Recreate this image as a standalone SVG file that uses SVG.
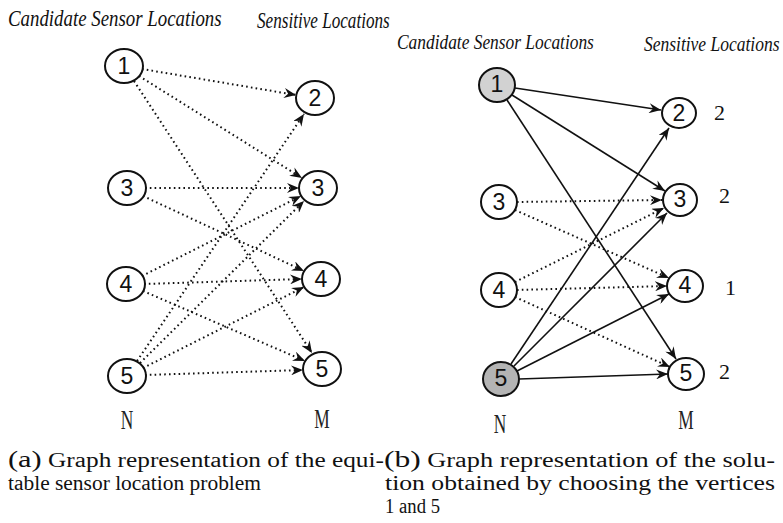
<svg xmlns="http://www.w3.org/2000/svg" width="783" height="523" viewBox="0 0 783 523">
<style>
.n{fill:#fff;stroke:#111;stroke-width:2}
.g1{fill:#d2d2d2}
.g5{fill:#b4b4b4}
.e{fill:none;stroke:#111;stroke-width:1.6;marker-end:url(#ah)}
.dot{stroke-dasharray:1.6 3.2;stroke-width:2}
</style>
<defs>
<marker id="ah" markerWidth="14" markerHeight="10" refX="12" refY="5" orient="auto" markerUnits="userSpaceOnUse">
<path d="M0,0 L12,5 L0,10 L4,5 z" fill="#111"/>
</marker>
</defs>
<g id="headers" font-family="'Liberation Serif', serif" font-style="italic" fill="#111">
<text font-size="23" transform="translate(8 26) scale(0.82 1)">Candidate Sensor  Locations</text>
<text font-size="23" transform="translate(257 28) scale(0.745 1)">Sensitive Locations</text>
<text font-size="22" transform="translate(397 49) scale(0.79 1)">Candidate Sensor  Locations</text>
<text font-size="22" transform="translate(644 51) scale(0.795 1)">Sensitive Locations</text>
</g>
<g id="connectors">
<line class="e dot" x1="142" y1="69" x2="296" y2="95"/>
<line class="e dot" x1="139" y1="76" x2="302" y2="178"/>
<line class="e dot" x1="134" y1="81" x2="312" y2="353"/>
<line class="e dot" x1="145" y1="188" x2="299" y2="188"/>
<line class="e dot" x1="143" y1="196" x2="304" y2="271"/>
<line class="e dot" x1="142" y1="276" x2="301" y2="196"/>
<line class="e dot" x1="144" y1="284" x2="302" y2="279"/>
<line class="e dot" x1="143" y1="291" x2="305" y2="361"/>
<line class="e dot" x1="137" y1="361" x2="304" y2="114"/>
<line class="e dot" x1="140" y1="363" x2="304" y2="201"/>
<line class="e dot" x1="143" y1="368" x2="304" y2="287"/>
<line class="e dot" x1="145" y1="375" x2="303" y2="370"/>
<line class="e" x1="515" y1="88" x2="661" y2="110"/>
<line class="e" x1="512" y1="95" x2="665" y2="191"/>
<line class="e" x1="507" y1="100" x2="676" y2="359"/>
<line class="e dot" x1="517" y1="202" x2="662" y2="200"/>
<line class="e dot" x1="515" y1="210" x2="669" y2="278"/>
<line class="e dot" x1="515" y1="282" x2="664" y2="208"/>
<line class="e dot" x1="517" y1="290" x2="667" y2="286"/>
<line class="e dot" x1="515" y1="297" x2="670" y2="367"/>
<line class="e" x1="511" y1="364" x2="669" y2="128"/>
<line class="e" x1="514" y1="366" x2="667" y2="213"/>
<line class="e" x1="517" y1="371" x2="669" y2="294"/>
<line class="e" x1="519" y1="379" x2="668" y2="374"/>
</g>
<g id="nodes" font-family="'Liberation Sans', Arial, sans-serif" font-size="23" text-anchor="middle" fill="#111">
<g id="a-N1"><ellipse class="n" cx="124" cy="66" rx="19" ry="17"/><text x="124" y="74">1</text></g>
<g id="a-N3"><ellipse class="n" cx="127" cy="188" rx="19" ry="17"/><text x="127" y="196">3</text></g>
<g id="a-N4"><ellipse class="n" cx="126" cy="284" rx="19" ry="17"/><text x="126" y="292">4</text></g>
<g id="a-N5"><ellipse class="n" cx="127" cy="376" rx="19" ry="17"/><text x="127" y="384">5</text></g>
<g id="a-M2"><ellipse class="n" cx="315" cy="98" rx="19" ry="17"/><text x="315" y="106">2</text></g>
<g id="a-M3"><ellipse class="n" cx="318" cy="188" rx="19" ry="17"/><text x="318" y="196">3</text></g>
<g id="a-M4"><ellipse class="n" cx="321" cy="279" rx="19" ry="17"/><text x="321" y="287">4</text></g>
<g id="a-M5"><ellipse class="n" cx="322" cy="369" rx="19" ry="17"/><text x="322" y="377">5</text></g>
<g id="b-N1"><ellipse class="n g1" cx="497" cy="85" rx="18" ry="17"/><text x="497" y="92">1</text></g>
<g id="b-N3"><ellipse class="n" cx="499" cy="202" rx="18" ry="17"/><text x="499" y="210">3</text></g>
<g id="b-N4"><ellipse class="n" cx="499" cy="290" rx="18" ry="17"/><text x="499" y="298">4</text></g>
<g id="b-N5"><ellipse class="n g5" cx="501" cy="379" rx="18" ry="17"/><text x="501" y="386">5</text></g>
<g id="b-M2"><ellipse class="n" cx="679" cy="113" rx="17" ry="15"/><text x="679" y="121">2</text></g>
<g id="b-M3"><ellipse class="n" cx="680" cy="200" rx="17" ry="16"/><text x="680" y="207">3</text></g>
<g id="b-M4"><ellipse class="n" cx="685" cy="286" rx="18" ry="16"/><text x="685" y="293">4</text></g>
<g id="b-M5"><ellipse class="n" cx="686" cy="374" rx="18" ry="16"/><text x="686" y="381">5</text></g>
</g>
<g id="weights" font-family="'Liberation Serif', serif" font-size="22" fill="#111">
<text x="714" y="120">2</text>
<text x="719" y="203">2</text>
<text x="725" y="295">1</text>
<text x="719" y="379">2</text>
</g>
<g id="set-labels" font-family="'Liberation Serif', serif" font-size="28" text-anchor="middle" fill="#222">
<text transform="translate(127 429) scale(0.62 1)">N</text>
<text transform="translate(322 428) scale(0.62 1)">M</text>
<text transform="translate(500 433) scale(0.62 1)">N</text>
<text transform="translate(686 429) scale(0.62 1)">M</text>
</g>
<g id="captions" font-family="'Liberation Serif', serif" font-size="20" fill="#111">
<text x="8" y="467" textLength="376" lengthAdjust="spacingAndGlyphs"><tspan font-size="24">(a)</tspan> Graph representation of the equi-</text>
<text x="8" y="490" textLength="253" lengthAdjust="spacingAndGlyphs">table sensor location problem</text>
<text x="384" y="467" textLength="391" lengthAdjust="spacingAndGlyphs"><tspan font-size="24">(b)</tspan> Graph representation of the solu-</text>
<text x="385" y="490" textLength="390" lengthAdjust="spacingAndGlyphs">tion obtained by choosing the vertices</text>
<text x="385" y="513" textLength="55" lengthAdjust="spacingAndGlyphs">1 and 5</text>
</g>
</svg>
